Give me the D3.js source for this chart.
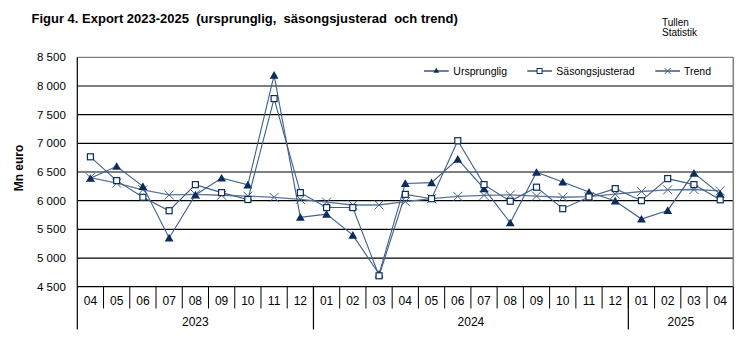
<!DOCTYPE html>
<html><head><meta charset="utf-8">
<script src="https://cdn.jsdelivr.net/npm/d3@7"></script>
<style>body{margin:0;background:#fff}svg{display:block;font-family:"Liberation Sans",Arial,sans-serif}</style>
</head><body><svg id="c" width="756" height="340"></svg>
<script>
const months = ["04","05","06","07","08","09","10","11","12","01","02","03","04","05","06","07","08","09","10","11","12","01","02","03","04"];
const years = [{label:"2023", start:0, end:9},{label:"2024", start:9, end:21},{label:"2025", start:21, end:25}];
const ursprunglig = [6390,6600,6250,5350,6100,6395,6275,8190,5710,5765,5400,4720,6300,6315,6725,6210,5615,6495,6325,6150,5995,5680,5830,6480,6115];
const sasong = [6765,6350,6060,5825,6280,6140,6020,7780,6140,5880,5880,4690,6110,6035,7045,6280,5990,6235,5860,6065,6210,6000,6385,6280,6015];
const trend = [6400,6305,6190,6100,6110,6095,6080,6058,6023,5975,5925,5925,5985,6035,6075,6093,6100,6080,6060,6070,6115,6160,6190,6195,6170];
const yTicks = [4500,5000,5500,6000,6500,7000,7500,8000,8500];

const svg = d3.select("#c");
const L = 77.3, R = 733.3, T = 57.3, B = 286.7;
const x = d3.scaleBand().domain(d3.range(months.length)).range([L, R]);
const y = d3.scaleLinear().domain([4500, 8500]).range([B, T]);
const fmt = v => d3.format(",")(v).replace(",", " ");
const navy = "#0b2d5c", lineC = "#3f5f8a";

// title
svg.append("text").attr("x", 31.5).attr("y", 23).attr("font-size", "13px").attr("font-weight", "bold")
  .attr("fill", "#000").style("white-space", "pre").text("Figur 4. Export 2023-2025  (ursprunglig,  säsongsjusterad  och trend)");
svg.append("text").attr("x", 662).attr("y", 25.5).attr("font-size", "10px").text("Tullen");
svg.append("text").attr("x", 662).attr("y", 36).attr("font-size", "10px").text("Statistik");

// gridlines
svg.append("g").selectAll("line").data(yTicks.slice(0, -1)).join("line")
  .attr("x1", L).attr("x2", R).attr("y1", d => y(d)).attr("y2", d => y(d))
  .attr("stroke", "#000").attr("stroke-width", 1.2);
// top & right border grey
svg.append("line").attr("x1", L).attr("x2", R).attr("y1", T).attr("y2", T).attr("stroke", "#808080").attr("stroke-width", 1.2);
svg.append("line").attr("x1", R).attr("x2", R).attr("y1", T).attr("y2", B).attr("stroke", "#808080").attr("stroke-width", 1.5);

// y labels
svg.append("g").selectAll("text").data(yTicks).join("text")
  .attr("x", 65.8).attr("y", d => y(d) + 4).attr("text-anchor", "end").attr("font-size", "11.5px").text(fmt);
svg.append("text").attr("transform", `translate(22.5,168) rotate(-90)`).attr("text-anchor", "middle")
  .attr("font-size", "12px").attr("font-weight", "bold").text("Mn euro");

// x axis
const ax = svg.append("g");
ax.append("line").attr("x1", L).attr("x2", L).attr("y1", T).attr("y2", 329.5).attr("stroke", "#000").attr("stroke-width", 1.2);
ax.selectAll(".mt").data(d3.range(1, months.length)).join("line")
  .attr("x1", d => x(d)).attr("x2", d => x(d)).attr("y1", B).attr("y2", 308.5).attr("stroke", "#000");
ax.selectAll(".ys").data(years).join("line")
  .attr("x1", d => x.range()[0] + x.step() * d.end).attr("x2", d => x.range()[0] + x.step() * d.end)
  .attr("y1", B).attr("y2", 329.5).attr("stroke", "#000").attr("stroke-width", 1.2);
ax.selectAll(".ml").data(months).join("text")
  .attr("x", (d, i) => x(i) + x.bandwidth() / 2).attr("y", 305).attr("text-anchor", "middle").attr("font-size", "12px").text(d => d);
ax.selectAll(".yl").data(years).join("text")
  .attr("x", d => L + x.step() * (d.start + d.end) / 2).attr("y", 326).attr("text-anchor", "middle").attr("font-size", "12px").text(d => d.label);

const cx = i => x(i) + x.bandwidth() / 2;
const line = d3.line().x((d, i) => cx(i)).y(d => y(d));
const tri = d3.symbol(d3.symbolTriangle, 34);
const g = svg.append("g");
function drawX(sel, s) {
  sel.append("path").attr("d", `M${-s},${-s}L${s},${s}M${-s},${s}L${s},${-s}`).attr("stroke", lineC).attr("stroke-width", 1).attr("fill", "none");
}
// trend
g.append("path").datum(trend).attr("d", line).attr("fill", "none").attr("stroke", "#5d7697").attr("stroke-width", 1.3);
trend.forEach((v, i) => drawX(g.append("g").attr("transform", `translate(${cx(i)},${y(v)})`), 4.5));
// ursprunglig
g.append("path").datum(ursprunglig).attr("d", line).attr("fill", "none").attr("stroke", lineC).attr("stroke-width", 1.1);
g.selectAll(".tri").data(ursprunglig).join("path").attr("d", tri)
  .attr("transform", (d, i) => `translate(${cx(i)},${y(d) + 1})`).attr("fill", navy);
// säsong
g.append("path").datum(sasong).attr("d", line).attr("fill", "none").attr("stroke", lineC).attr("stroke-width", 1.1);
g.selectAll(".sq").data(sasong).join("rect")
  .attr("x", (d, i) => cx(i) - 3).attr("y", d => y(d) - 3).attr("width", 6).attr("height", 6)
  .attr("fill", "#fff").attr("stroke", navy).attr("stroke-width", 1.2);

// legend
const lg = svg.append("g");
const ly = 71;
const items = [{n:"Ursprunglig", x0:424, t:453.3, m:"tri"},{n:"Säsongsjusterad", x0:527.3, t:556.3, m:"sq"},{n:"Trend", x0:655.3, t:684, m:"x"}];
items.forEach(it => {
  lg.append("line").attr("x1", it.x0).attr("x2", it.x0 + 24.7).attr("y1", ly).attr("y2", ly).attr("stroke", navy).attr("stroke-width", 1.2);
  const mx = it.x0 + 12.3;
  if (it.m === "tri") lg.append("path").attr("d", d3.symbol(d3.symbolTriangle, 14)).attr("transform", `translate(${mx},${ly})`).attr("fill", navy);
  if (it.m === "sq") lg.append("rect").attr("x", mx - 2.5).attr("y", ly - 2.5).attr("width", 5).attr("height", 5).attr("fill", "#fff").attr("stroke", navy);
  if (it.m === "x") drawX(lg.append("g").attr("transform", `translate(${mx},${ly})`), 3);
  lg.append("text").attr("x", it.t).attr("y", ly + 4).attr("font-size", "10.5px").text(it.n);
});
</script></body></html>
